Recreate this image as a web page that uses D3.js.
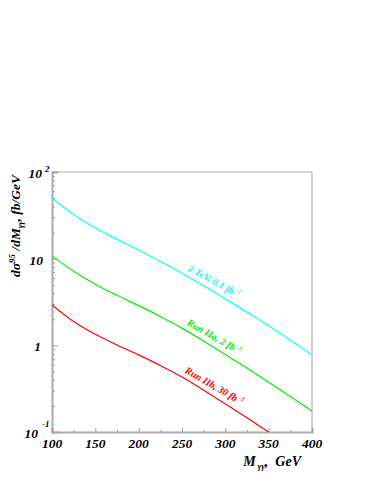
<script src="https://cdn.jsdelivr.net/npm/d3@7"></script>
<style>
  body { margin: 0; background: #fff; }
  text { font-family: "Liberation Serif", "DejaVu Serif", serif; font-weight: bold; font-style: italic; }
</style>
<svg id="chart" width="374" height="485"></svg>
<script>
  // values
  const masses = [100, 125, 150, 175, 200, 225, 250, 275, 300, 325, 350, 375, 400]
  const tevLow = [50.1, 32.4, 22.6, 16.8, 12.6, 9.33, 6.79, 4.86, 3.44, 2.42, 1.68, 1.15, 0.774]
  const runIIa = [10.7, 7.18, 5.08, 3.78, 2.87, 2.15, 1.58, 1.12, 0.785, 0.546, 0.376, 0.257, 0.175]
  const runIIb = [2.92, 1.88, 1.34, 1.01, 0.776, 0.586, 0.430, 0.304, 0.211, 0.146, 0.100]
  const xTicks = [100, 150, 200, 250, 300, 350, 400]
  const xMinor = [125, 175, 225, 275, 325, 375]

  const series = [
    {name: "2 TeV, 0.1 fb", values: tevLow, color: "#00ffff"},
    {name: "Run IIa, 2 fb", values: runIIa, color: "#00ee00"},
    {name: "Run IIb, 30 fb", values: runIIb, color: "#ff0000"}
  ]

  const svg = d3.select("#chart")
  const margin = {top: 172, right: 62, bottom: 53, left: 52}
  const width = 374 - margin.left - margin.right
  const height = 485 - margin.top - margin.bottom
  const x = d3.scaleLinear().domain([100, 400]).range([margin.left, margin.left + width])
  const y = d3.scaleLog().domain([0.1, 100]).range([margin.top + height, margin.top])

  svg.append("clipPath").attr("id", "clip")
    .append("rect").attr("x", margin.left).attr("y", margin.top).attr("width", width).attr("height", height)

  // frame
  svg.append("line").attr("x1", x(100)).attr("x2", x(400)).attr("y1", y(100)).attr("y2", y(100))
    .attr("stroke", "#c8c8c8").attr("stroke-width", 1.5)
  svg.append("line").attr("x1", x(400)).attr("x2", x(400)).attr("y1", y(100)).attr("y2", y(0.1))
    .attr("stroke", "#d0d0d0").attr("stroke-width", 2)

  // y axis with major and minor log ticks
  const yMinor = []
  for (let p = -1; p < 2; p++) for (let k = 2; k <= 9; k++) yMinor.push(k * Math.pow(10, p))
  svg.append("g").attr("transform", "translate(" + margin.left + ",0)")
    .call(d3.axisRight(y).tickValues(yMinor).tickSize(3).tickFormat(""))
    .call(g => g.select(".domain").remove())
    .selectAll("line").attr("stroke", "#999")
  svg.append("g").attr("transform", "translate(" + margin.left + ",0)")
    .call(d3.axisRight(y).tickValues([0.1, 1, 10, 100]).tickSize(6).tickFormat(""))
    .call(g => g.select(".domain").attr("stroke", "#aaa").attr("stroke-width", 2))
    .selectAll("line").attr("stroke", "#999")

  // x axis
  const xb = margin.top + height
  svg.append("g").attr("transform", "translate(0," + xb + ")")
    .call(d3.axisTop(x).tickValues(xMinor).tickSize(2).tickFormat(""))
    .call(g => g.select(".domain").remove())
    .selectAll("line").attr("stroke", "#999")
  svg.append("g").attr("transform", "translate(0," + xb + ")")
    .call(d3.axisTop(x).tickValues(xTicks).tickSize(4).tickFormat(""))
    .call(g => g.select(".domain").attr("stroke", "#aaa").attr("stroke-width", 2))
    .selectAll("line").attr("stroke", "#999")

  svg.selectAll(".xlab").data(xTicks).enter().append("text")
    .attr("x", d => x(d)).attr("y", xb + 16)
    .attr("text-anchor", "middle").style("font-size", "13.5px")
    .text(d => d)

  // y tick labels
  const ylab = svg.append("g").style("font-size", "13.5px")
  ylab.append("text").attr("x", 43).attr("y", y(10) + 6).attr("text-anchor", "end").text("10")
  ylab.append("text").attr("x", 41).attr("y", y(1) + 6).attr("text-anchor", "end").text("1")
  ylab.append("text").attr("x", 42).attr("y", y(100) + 6).attr("text-anchor", "end").text("10")
  ylab.append("text").attr("x", 45).attr("y", y(100)).style("font-size", "9px").text("2")
  ylab.append("text").attr("x", 38).attr("y", y(0.1) + 6).attr("text-anchor", "end").text("10")
  ylab.append("text").attr("x", 42).attr("y", y(0.1) - 5).style("font-size", "9px").text("-1")

  // curves
  const line = d3.line().x((d, i) => x(masses[i])).y(d => y(d)).curve(d3.curveMonotoneX)
  svg.append("g").attr("clip-path", "url(#clip)")
    .selectAll("path").data(series).enter().append("path")
    .attr("fill", "none").attr("stroke", d => d.color).attr("stroke-width", 1.2)
    .attr("d", d => line(d.values))

  // labels along the curves
  const at = 282
  const lerp = (vals, m) => {
    const i = Math.floor((m - 100) / 25)
    const t = (m - masses[i]) / 25
    return Math.exp(Math.log(vals[i]) * (1 - t) + Math.log(vals[i + 1]) * t)
  }
  series.forEach(s => {
    const px = x(at), py = y(lerp(s.values, at))
    const ang = Math.atan2(y(lerp(s.values, at + 20)) - y(lerp(s.values, at - 20)), x(at + 20) - x(at - 20)) * 180 / Math.PI
    const t = svg.append("text")
      .attr("transform", "translate(" + px + "," + py + ") rotate(" + (ang - 2) + ")")
      .attr("y", -6).attr("text-anchor", "middle")
      .style("font-size", "10px").attr("fill", s.color)
    t.append("tspan").text(s.name)
    t.append("tspan").attr("dy", -4).style("font-size", "6.5px").text(" -1")
  })

  // axis titles
  const yt = svg.append("text").attr("transform", "translate(20,226) rotate(-90)")
    .attr("text-anchor", "middle").style("font-size", "13.5px")
  yt.append("tspan").text("d\u03c3")
  yt.append("tspan").attr("dy", -5).style("font-size", "9px").text("95")
  yt.append("tspan").attr("dy", 5).text(" /dM")
  yt.append("tspan").attr("dy", 3).style("font-size", "8px").text("\u03b3\u03b3")
  yt.append("tspan").attr("dy", -3).text(",  fb/GeV")

  const xt = svg.append("text").attr("x", 301).attr("y", 466).attr("text-anchor", "end").style("font-size", "14px")
  xt.append("tspan").text("M")
  xt.append("tspan").attr("dy", 3).style("font-size", "8.5px").text(" \u03b3\u03b3")
  xt.append("tspan").attr("dy", -3).text(",\u00a0\u00a0GeV")
</script>
